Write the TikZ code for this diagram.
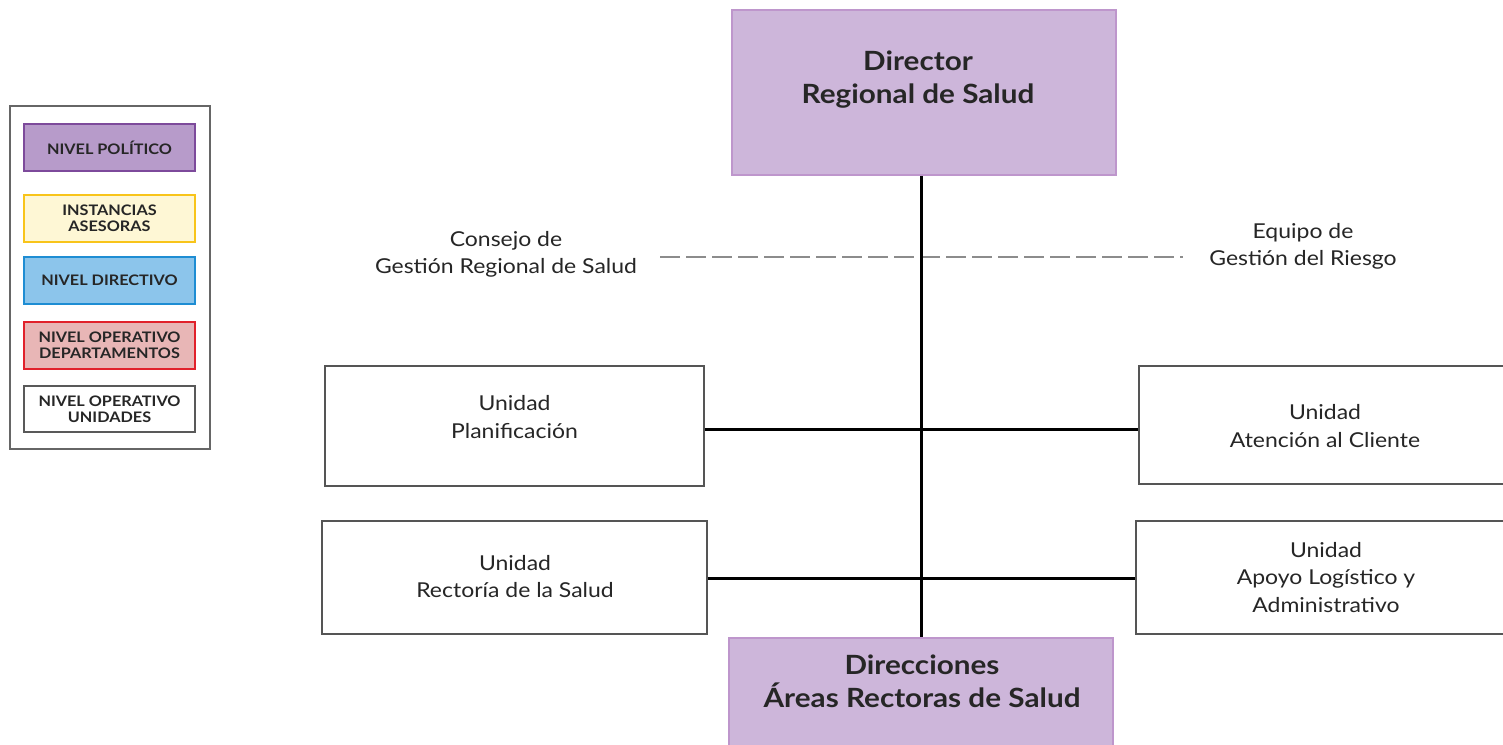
\documentclass[tikz,border=0pt]{standalone}
\usepackage{fontspec}
\setmainfont{Lato}[FakeStretch=1.12]
\begin{document}
\begin{tikzpicture}[x=1pt,y=-1pt,
  pol/.style={draw=polB,fill=polF,line width=1.5pt,inner sep=0pt},
  unit/.style={draw=unitB,fill=white,line width=1.5pt,inner sep=0pt},
  lg/.style={line width=2.5pt,inner sep=0pt,font=\fontsize{14.5}{16}\selectfont\bfseries,align=center,text=black!85},
  conn/.style={line width=3pt,black},
  txt/.style={font=\fontsize{20.5}{27.5}\selectfont,align=center,text=black!85},
  big/.style={font=\fontsize{26.5}{33}\selectfont\bfseries,align=center,text=black!85}
]
\definecolor{polF}{HTML}{CDB6DA}
\definecolor{polB}{HTML}{BE96CC}
\definecolor{unitB}{HTML}{555555}
\definecolor{l1F}{HTML}{B79BCA}\definecolor{l1B}{HTML}{7D4A9B}
\definecolor{l2F}{HTML}{FEF7D5}\definecolor{l2B}{HTML}{F8C41A}
\definecolor{l3F}{HTML}{8CC5EB}\definecolor{l3B}{HTML}{1E8DD3}
\definecolor{l4F}{HTML}{E8B6B6}\definecolor{l4B}{HTML}{E1212B}
\useasboundingbox (0,0) rectangle (1503,744);
\fill[white] (0,0) rectangle (1503,744);

% legend
\node[draw=black!60,line width=1.5pt,minimum width=200pt,minimum height=343pt,inner sep=0pt] (legend) at (110,277.5) {};
\node[lg,draw=l1B,fill=l1F,minimum width=171pt,minimum height=47pt] (l1) at (109.5,147.5) {NIVEL POLÍTICO};
\node[lg,draw=l2B,fill=l2F,minimum width=171pt,minimum height=47pt] (l2) at (109.5,218.5) {INSTANCIAS\\ASESORAS};
\node[lg,draw=l3B,fill=l3F,minimum width=171pt,minimum height=47pt] (l3) at (109.5,280.5) {NIVEL DIRECTIVO};
\node[lg,draw=l4B,fill=l4F,minimum width=171pt,minimum height=47pt] (l4) at (109.5,345.5) {NIVEL OPERATIVO\\DEPARTAMENTOS};
\node[lg,draw=black!65,fill=white,minimum width=171pt,minimum height=46pt] (l5) at (109.5,409) {NIVEL OPERATIVO\\UNIDADES};

% main boxes
\node[pol,minimum width=384pt,minimum height=165pt] (dir) at (924,92.5) {};
\node[big] at (918,80) {Director\\Regional de Salud};
\node[pol,minimum width=384pt,minimum height=120pt] (dar) at (921,698) {};
\node[big] at (922,681) {Direcciones\\Áreas Rectoras de Salud};

\node[unit,minimum width=379pt,minimum height=120pt] (plan) at (514.5,426) {};
\node[txt] at (514.5,417) {Unidad\\Planificación};
\node[unit,minimum width=380pt,minimum height=118pt] (aten) at (1329,425) {};
\node[txt] at (1325,426) {Unidad\\Atención al Cliente};
\node[unit,minimum width=385pt,minimum height=113pt] (rect) at (514.5,577.5) {};
\node[txt] at (515,576.5) {Unidad\\Rectoría de la Salud};
\node[unit,minimum width=380pt,minimum height=113pt] (apoyo) at (1326,577.5) {};
\node[txt] at (1326,577.5) {Unidad\\Apoyo Logístico y\\Administrativo};

% advisory
\node[txt] (cons) at (506,254.5) {Consejo de\\Gestión Regional de Salud};
\node[txt] (equipo) at (1303,246.5) {Equipo de\\Gestión del Riesgo};
\coordinate (dl) at (660,257);
\coordinate (dr) at (1183,257);
\draw[black!45,line width=2pt,dash pattern=on 20pt off 6pt] (dl) -- (dr);

% connectors
\draw[conn] (dir.south -| 921,0) -- (dar.north -| 921,0);
\draw[conn] (plan.east |- 0,429) -- (aten.west |- 0,429);
\draw[conn] (rect.east |- 0,578) -- (apoyo.west |- 0,578);
\end{tikzpicture}
\end{document}
